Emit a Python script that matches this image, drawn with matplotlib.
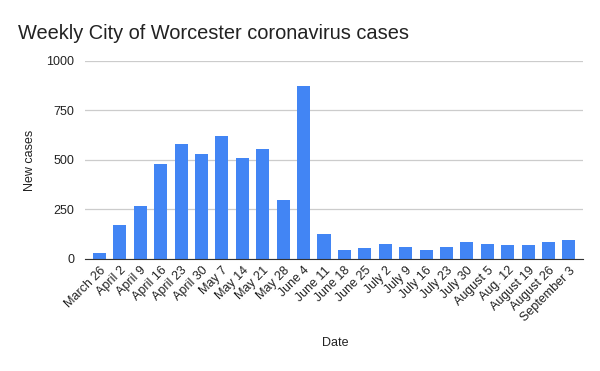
import matplotlib.pyplot as plt

plt.rcParams['font.family'] = ['Liberation Sans', 'DejaVu Sans']

dates = ["March 26", "April 2", "April 9", "April 16", "April 23", "April 30",
         "May 7", "May 14", "May 21", "May 28", "June 4", "June 11", "June 18",
         "June 25", "July 2", "July 9", "July 16", "July 23", "July 30",
         "August 5", "Aug. 12", "August 19", "August 26", "September 3"]
new_cases = [30, 171, 266, 477, 578, 528, 623, 508, 553, 296, 874, 125, 45,
             55, 75, 60, 45, 60, 85, 75, 70, 70, 85, 95]

fig = plt.figure(figsize=(6, 3.71), dpi=100)
ax = fig.add_axes([0.142, 0.302, 0.83, 0.534])

x = range(len(dates))
ax.bar(x, new_cases, width=0.64, color="#4285F4", zorder=3)

ax.set_ylim(0, 1000)
ax.set_yticks([0, 250, 500, 750, 1000])
ax.set_xlim(-0.7, len(dates) - 0.3)
ax.yaxis.grid(True, color="#cccccc", linewidth=0.9, zorder=0)
for s in ["top", "right", "left"]:
    ax.spines[s].set_visible(False)
ax.spines["bottom"].set_color("#333333")
ax.spines["bottom"].set_zorder(4)
ax.tick_params(axis="both", length=0, labelsize=9, colors="#222222")
ax.tick_params(axis="y", pad=8)
ax.tick_params(axis="x", pad=4)
ax.set_xticks(list(x))
ax.set_xticklabels(dates, rotation=45, ha="right", rotation_mode="anchor")

fig.text(0.558, 1 - 343 / 371, "Date", fontsize=9, color="#222222",
         ha="center", va="center")
fig.text(30 / 600, 1 - 160 / 371, "New cases", fontsize=9, color="#222222",
         rotation=90, ha="center", va="center")
fig.text(0.03, 0.91, "Weekly City of Worcester coronavirus cases", fontsize=14.4,
         color="#222222", va="center")

fig.savefig("out.png", dpi=100)
